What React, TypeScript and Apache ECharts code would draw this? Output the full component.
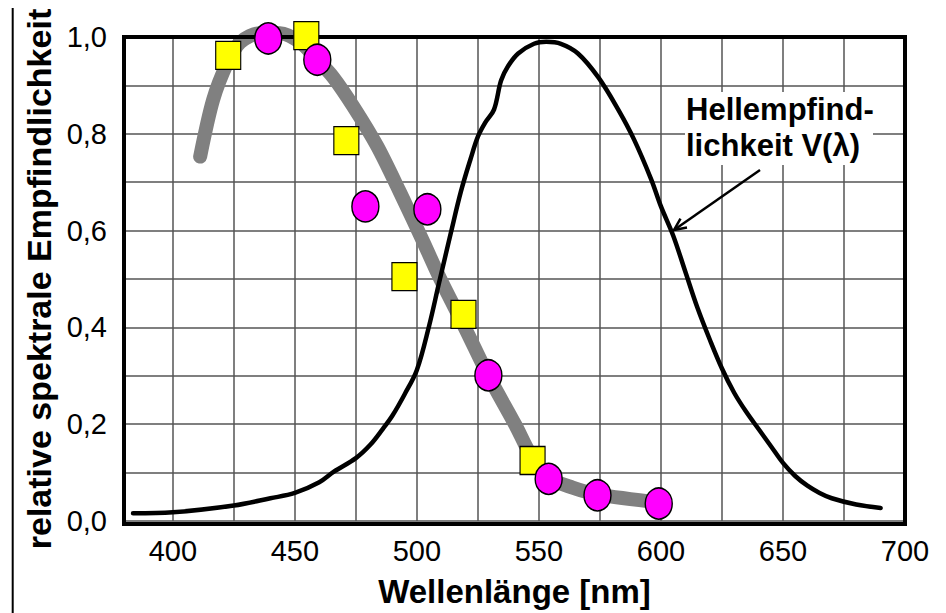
import React, { useEffect, useRef } from "react";
import * as echarts from "echarts";

// ---- axis setup ----
const X_MIN = 380;
const X_MAX = 700;
const X_GRID_STEP = 25;
const xTickLabels = [400, 450, 500, 550, 600, 650, 700];
const yTickLabels = ["0,0", "0,2", "0,4", "0,6", "0,8", "1,0"];

// ---- V(lambda) curve (black) ----
const vLambdaNm = [
  383.7, 400, 425, 440, 450, 460, 466, 475, 481, 486, 490, 495, 500, 505, 509,
  514, 518, 522, 525, 528, 531.6, 534.5, 537.4, 541.5, 548, 553, 559, 566,
  574.3, 582.5, 589, 596, 600, 605, 610, 615, 620, 625, 630, 635, 640, 645,
  650, 655, 660, 665, 670, 680, 690,
];
const vLambdaValue = [
  0.016, 0.018, 0.032, 0.047, 0.058, 0.08, 0.102, 0.13, 0.158, 0.19, 0.218,
  0.262, 0.312, 0.403, 0.49, 0.597, 0.68, 0.748, 0.794, 0.823, 0.85, 0.91,
  0.94, 0.966, 0.986, 0.99, 0.986, 0.966, 0.917, 0.85, 0.788, 0.706, 0.65,
  0.59, 0.515, 0.44, 0.375, 0.315, 0.265, 0.225, 0.19, 0.155, 0.12, 0.093,
  0.073, 0.058, 0.047, 0.034, 0.027,
];

// ---- thick grey fitted curve ----
const fitNm = [
  411.2, 416.5, 422.3, 427.6, 435.8, 444, 452.2, 459.2, 465.7, 474, 483.8,
  493.2, 502.7, 509.6, 519.9, 529.3, 540.4, 546.6, 554, 563.8, 574, 599.5,
];
const fitValue = [
  0.753, 0.87, 0.946, 0.989, 1.008, 1.008, 0.989, 0.953, 0.917, 0.856, 0.774,
  0.678, 0.576, 0.5, 0.397, 0.3, 0.198, 0.137, 0.09, 0.069, 0.055, 0.038,
];

// ---- measured points ----
const squareNm = [422.7, 454.7, 471.1, 494.9, 519.1, 547.4];
const squareValue = [0.962, 1.003, 0.786, 0.505, 0.427, 0.125];
const circleNm = [439.1, 459.2, 478.9, 504.3, 529.3, 554, 574, 599.1];
const circleValue = [0.997, 0.953, 0.65, 0.644, 0.301, 0.087, 0.053, 0.036];

const FONT = '"Liberation Sans", Arial, Helvetica, sans-serif';

const GRID = { left: 124, right: 41, top: 37, bottom: 89 };
const W = 946;
const H = 613;

function pairs(xs: number[], ys: number[]) {
  return xs.map((x, i) => [x, ys[i]]);
}

export default function App() {
  const ref = useRef<HTMLDivElement>(null);

  useEffect(() => {
    document.body.style.margin = "0";
    if (!ref.current) return;
    const chart = echarts.init(ref.current, undefined, { renderer: "svg" });

    const option: any = {
      animation: false,
      backgroundColor: "#ffffff",
      grid: { ...GRID, containLabel: false },
      xAxis: [
        {
          type: "value",
          min: X_MIN,
          max: X_MAX,
          show: false,
        },
        {
          type: "value",
          inverse: true,
          min: 0,
          max: X_MAX - X_MIN,
          interval: X_GRID_STEP,
          position: "bottom",
          axisLine: { show: false },
          axisTick: { show: false },
          splitLine: { show: true, lineStyle: { color: "#555", width: 1.5 } },
          axisLabel: {
            margin: 15,
            fontSize: 29,
            color: "#000",
            fontFamily: FONT,
            formatter: (v: number) => {
              const nm = Math.round(X_MAX - v);
              return xTickLabels.includes(nm) ? String(nm) : "";
            },
          },
          name: "Wellenlänge [nm]",
          nameLocation: "middle",
          nameGap: 54,
          nameTextStyle: {
            fontSize: 33,
            fontWeight: "bold",
            color: "#000",
            fontFamily: FONT,
          },
        },
      ],
      yAxis: {
        type: "value",
        min: 0,
        max: 1,
        interval: 0.1,
        axisLine: { show: false },
        axisTick: { show: false },
        splitLine: { show: true, lineStyle: { color: "#555", width: 1.5 } },
        axisLabel: {
          margin: 17,
          fontSize: 29,
          color: "#000",
          fontFamily: FONT,
          padding: [8, 0, 0, 0],
          formatter: (v: number) => {
            const k = Math.round(v * 10);
            return k % 2 === 0 ? yTickLabels[k / 2] : "";
          },
        },
        name: "relative spektrale Empfindlichkeit",
        nameLocation: "middle",
        nameGap: 64,
        nameTextStyle: {
          fontSize: 34,
          fontWeight: "bold",
          color: "#000",
          fontFamily: FONT,
        },
      },
      series: [
        {
          type: "line",
          xAxisIndex: 0,
          data: pairs(fitNm, fitValue),
          smooth: 0.3,
          symbol: "none",
          clip: false,
          z: 2,
          lineStyle: { color: "#808080", width: 14, cap: "round", join: "round" },
        },
        {
          type: "line",
          xAxisIndex: 0,
          data: pairs(vLambdaNm, vLambdaValue),
          smooth: 0.35,
          symbol: "none",
          clip: false,
          z: 2,
          lineStyle: { color: "#000", width: 4.5, cap: "round", join: "round" },
        },
        {
          type: "scatter",
          xAxisIndex: 0,
          data: pairs(squareNm, squareValue),
          symbol: "rect",
          symbolSize: [25, 28],
          clip: false,
          z: 4,
          itemStyle: { color: "#FFFF00", borderColor: "#000", borderWidth: 1.2, opacity: 1 },
        },
        {
          type: "scatter",
          xAxisIndex: 0,
          data: pairs(circleNm, circleValue),
          symbol: "circle",
          symbolSize: [27, 31],
          clip: false,
          z: 5,
          itemStyle: { color: "#FF00FF", borderColor: "#000", borderWidth: 1.5, opacity: 1 },
        },
      ],
      graphic: [
        {
          type: "line",
          z: 3,
          shape: { x1: 12.7, y1: 8, x2: 12.7, y2: H },
          style: { stroke: "#000", lineWidth: 2 },
        },
        {
          type: "rect",
          z: 3,
          shape: {
            x: GRID.left,
            y: GRID.top,
            width: W - GRID.left - GRID.right,
            height: H - GRID.top - GRID.bottom,
          },
          style: { fill: "none", stroke: "#000", lineWidth: 4 },
        },
        {
          type: "rect",
          z: 1,
          shape: { x: 685, y: 92, width: 188, height: 73 },
          style: { fill: "#fff", stroke: "none" },
        },
        {
          type: "text",
          z: 3,
          x: 686,
          y: 109,
          style: {
            text: "Hellempfind-",
            font: `bold 31px ${FONT}`,
            fill: "#000",
            align: "left",
            verticalAlign: "middle",
          },
        },
        {
          type: "text",
          z: 3,
          x: 686,
          y: 145,
          style: {
            text: "lichkeit V(λ)",
            font: `bold 31px ${FONT}`,
            fill: "#000",
            align: "left",
            verticalAlign: "middle",
          },
        },
        {
          type: "line",
          z: 3,
          shape: { x1: 760, y1: 170, x2: 674, y2: 230 },
          style: { stroke: "#000", lineWidth: 2.5 },
        },
        {
          type: "polyline",
          z: 3,
          shape: { points: [[687, 227.6], [674, 230], [680.5, 218.6]] },
          style: { stroke: "#000", lineWidth: 2.5, fill: "none" },
        },
      ],
    };

    chart.setOption(option);
    return () => chart.dispose();
  }, []);

  return (
    <div
      ref={ref}
      style={{ position: "fixed", left: 0, top: 0, width: W, height: H }}
    />
  );
}
